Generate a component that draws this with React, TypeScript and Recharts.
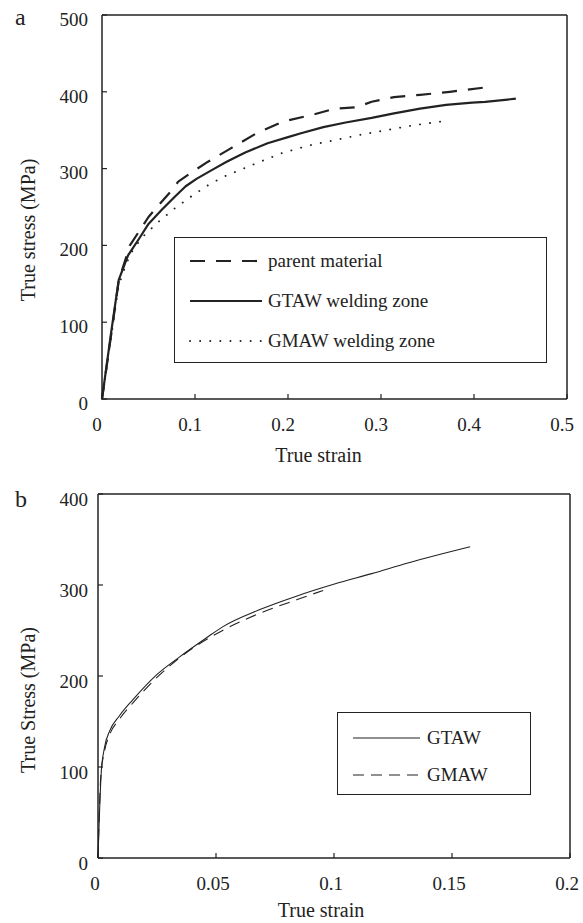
import { LineChart, Line, XAxis, YAxis, Legend, Label } from 'recharts'

// ── (a) true stress / strain, three zones ──────────────
const parentStrain = [0, 0.010, 0.018, 0.030, 0.050, 0.062, 0.073, 0.082, 0.095, 0.114, 0.138, 0.166, 0.194, 0.226, 0.250, 0.274, 0.290, 0.314, 0.342, 0.374, 0.414]
const parentStress = [0, 85, 154, 200, 237, 254, 269, 283, 294, 309, 326, 346, 361, 370, 378, 380, 387, 393, 396, 400, 406]

const gtawStrain = [0, 0.010, 0.018, 0.028, 0.040, 0.050, 0.064, 0.078, 0.090, 0.102, 0.118, 0.134, 0.154, 0.178, 0.200, 0.214, 0.238, 0.262, 0.290, 0.314, 0.342, 0.370, 0.398, 0.412, 0.445]
const gtawStress = [0, 88, 155, 187, 209, 228, 246, 263, 277, 287, 298, 309, 321, 333, 341, 346, 354, 360, 366, 372, 378, 383, 386, 387, 391]

const gmawStrain = [0, 0.010, 0.018, 0.026, 0.034, 0.046, 0.062, 0.078, 0.095, 0.112, 0.130, 0.148, 0.166, 0.193, 0.222, 0.250, 0.282, 0.310, 0.338, 0.370]
const gmawStress = [0, 82, 148, 176, 196, 214, 232, 248, 263, 277, 289, 298, 307, 320, 330, 337, 345, 351, 357, 362]

const xTicksA = [0, 0.1, 0.2, 0.3, 0.4, 0.5]
const yTicksA = [0, 100, 200, 300, 400, 500]

// ── (b) GTAW vs GMAW ───────────────────────────────────
const gtawBStrain = [0, 0.0014, 0.0028, 0.005, 0.009, 0.0148, 0.0247, 0.0346, 0.046, 0.0528, 0.0686, 0.0844, 0.1002, 0.116, 0.1317, 0.1577]
const gtawBStress = [0, 95, 122, 140, 156, 174, 201, 221, 242, 254, 273, 288, 301, 312.5, 324.5, 342]

const gmawBStrain = [0, 0.0012, 0.0028, 0.005, 0.0092, 0.015, 0.0244, 0.0371, 0.0528, 0.0686, 0.0844, 0.0954]
const gmawBStress = [0, 90, 118, 136, 153, 171, 197, 225, 250, 269, 284, 294]

const xTicksB = [0, 0.05, 0.1, 0.15, 0.2]
const yTicksB = [0, 100, 200, 300, 400]

const FONT = '"Liberation Serif", "Times New Roman", serif'
const INK = '#222'
const TICK = 5 // inward tick length

const zip = (xs: number[], ys: number[]) => xs.map((x, i) => ({ x, y: ys[i] }))

type SeriesStyle = { name: string; width: number; dash?: string; cap?: 'round' | 'butt' }

const seriesA: (SeriesStyle & { data: { x: number; y: number }[] })[] = [
  { name: 'parent material', width: 2.2, dash: '15 11', data: zip(parentStrain, parentStress) },
  { name: 'GTAW welding zone', width: 2.2, data: zip(gtawStrain, gtawStress) },
  { name: 'GMAW welding zone', width: 1.9, dash: '0.1 10', cap: 'round', data: zip(gmawStrain, gmawStress) },
]

const seriesB: (SeriesStyle & { data: { x: number; y: number }[] })[] = [
  { name: 'GTAW', width: 1.1, data: zip(gtawBStrain, gtawBStress) },
  { name: 'GMAW', width: 1.1, dash: '11 7', data: zip(gmawBStrain, gmawBStress) },
]

const fmt = (v: number) => String(v)

// tick renderers: each draws its own inward tick mark (+ label on bottom/left)
type TickProps = { x: number; y: number; payload: { value: number } }

const bottomTick = (margin: number, dx: number) => (p: TickProps) => {
  const axisY = p.y - margin
  return (
    <g>
      <line x1={p.x} x2={p.x} y1={axisY} y2={axisY - TICK} stroke={INK} strokeWidth={1.2} />
      <text x={p.x + dx} y={p.y} dy="0.71em" textAnchor="middle" fill={INK} fontSize={19} fontFamily={FONT}>
        {fmt(p.payload.value)}
      </text>
    </g>
  )
}

const topTick = (margin: number) => (p: TickProps) => {
  const axisY = p.y + margin
  return <line x1={p.x} x2={p.x} y1={axisY} y2={axisY + TICK} stroke={INK} strokeWidth={1.2} />
}

const leftTick = (margin: number, dy: number) => (p: TickProps) => {
  const axisX = p.x + margin
  return (
    <g>
      <line x1={axisX} x2={axisX + TICK} y1={p.y} y2={p.y} stroke={INK} strokeWidth={1.2} />
      <text x={p.x} y={p.y + dy} dy="0.355em" textAnchor="end" fill={INK} fontSize={19} fontFamily={FONT}>
        {fmt(p.payload.value)}
      </text>
    </g>
  )
}

const rightTick = (margin: number) => (p: TickProps) => {
  const axisX = p.x - margin
  return <line x1={axisX} x2={axisX - TICK} y1={p.y} y2={p.y} stroke={INK} strokeWidth={1.2} />
}

function LegendBox({
  items,
  rowTop,
  rowGap,
  lineX,
  lineLen,
  textX,
}: {
  items: SeriesStyle[]
  rowTop: number
  rowGap: number
  lineX: number
  lineLen: number
  textX: number
}) {
  return (
    <div
      style={{
        width: '100%',
        height: '100%',
        boxSizing: 'border-box',
        border: `1.5px solid ${INK}`,
        background: '#fff',
        position: 'relative',
        fontFamily: FONT,
        color: INK,
        fontSize: 19,
      }}
    >
      {items.map((s, i) => {
        const cy = rowTop + i * rowGap
        return (
          <div key={s.name}>
            <svg
              width={lineLen + 4}
              height={8}
              style={{ position: 'absolute', left: lineX - 2, top: cy - 4 }}
            >
              <line
                x1={2}
                x2={lineLen + 2}
                y1={4}
                y2={4}
                stroke={INK}
                strokeWidth={s.width}
                strokeDasharray={s.dash}
                strokeLinecap={s.cap ?? 'butt'}
              />
            </svg>
            <span
              style={{
                position: 'absolute',
                left: textX,
                top: cy - 12,
                lineHeight: '24px',
                whiteSpace: 'nowrap',
              }}
            >
              {s.name}
            </span>
          </div>
        )
      })}
    </div>
  )
}

const titleStyle = { fill: INK, fontSize: 20, fontFamily: FONT }

export default function App() {
  return (
    <div style={{ position: 'absolute', left: 0, top: 0, width: 583, height: 923, background: '#fff' }}>
      <div style={{ position: 'absolute', left: 15, top: 3, fontFamily: FONT, fontSize: 24, lineHeight: '28px', color: INK }}>a</div>
      <div style={{ position: 'absolute', left: 15, top: 485, fontFamily: FONT, fontSize: 24, lineHeight: '28px', color: INK }}>b</div>

      {/* ── (a) ─────────────────────────────────────── */}
      <div style={{ position: 'absolute', left: 0, top: 0 }}>
        <LineChart width={583} height={470} margin={{ top: 14, right: 15, bottom: 31, left: 0 }}>
          <XAxis
            type="number"
            dataKey="x"
            domain={[0, 0.5]}
            ticks={xTicksA}
            interval={0}
            height={40}
            stroke={INK}
            strokeWidth={1.5}
            tickLine={false}
            tickSize={0}
            tickMargin={19}
            tick={bottomTick(19, -5)}
          >
            <Label value="True strain" position="center" dx={-16} dy={36} style={titleStyle} />
          </XAxis>
          <XAxis xAxisId="t" orientation="top" type="number" domain={[0, 0.5]} ticks={xTicksA} interval={0} height={1} stroke={INK} strokeWidth={1.5} tick={false} tickLine={false} />
          <YAxis
            type="number"
            domain={[0, 500]}
            ticks={yTicksA}
            interval={0}
            width={102}
            stroke={INK}
            strokeWidth={1.5}
            tickLine={false}
            tickSize={0}
            tickMargin={14}
            tick={leftTick(14, 4)}
          >
            <Label value="True stress (MPa)" position="center" angle={-90} dx={-23} dy={23} style={{ ...titleStyle, textAnchor: 'middle' }} />
          </YAxis>
          <YAxis yAxisId="r" orientation="right" type="number" domain={[0, 500]} ticks={yTicksA} interval={0} width={1} stroke={INK} strokeWidth={1.5} tickLine={false} tickSize={0} tickMargin={4} tick={rightTick(4)} />
          {seriesA.map((s) => (
            <Line
              key={s.name}
              data={s.data}
              dataKey="y"
              name={s.name}
              type="linear"
              stroke={INK}
              strokeWidth={s.width}
              strokeDasharray={s.dash}
              strokeLinecap={s.cap ?? 'butt'}
              strokeLinejoin="round"
              dot={false}
              activeDot={false}
              isAnimationActive={false}
            />
          ))}
          <Legend
            layout="vertical"
            align="center"
            verticalAlign="middle"
            wrapperStyle={{ left: 174, top: 237, width: 373, height: 126 }}
            content={() => (
              <LegendBox items={seriesA} rowTop={23} rowGap={40} lineX={15} lineLen={72} textX={93} />
            )}
          />
        </LineChart>
      </div>

      {/* ── (b) ─────────────────────────────────────── */}
      <div style={{ position: 'absolute', left: 0, top: 460 }}>
        <LineChart width={583} height={463} margin={{ top: 33, right: 12, bottom: 25, left: 0 }}>
          <XAxis
            type="number"
            dataKey="x"
            domain={[0, 0.2]}
            ticks={xTicksB}
            interval={0}
            height={40}
            stroke={INK}
            strokeWidth={1.5}
            tickLine={false}
            tickSize={0}
            tickMargin={19}
            tick={bottomTick(19, -3)}
          >
            <Label value="True strain" position="center" dx={-13} dy={32} style={titleStyle} />
          </XAxis>
          <XAxis xAxisId="t" orientation="top" type="number" domain={[0, 0.2]} ticks={xTicksB} interval={0} height={1} stroke={INK} strokeWidth={1.5} tickLine={false} tickSize={0} tickMargin={4} tick={topTick(4)} />
          <YAxis
            type="number"
            domain={[0, 400]}
            ticks={yTicksB}
            interval={0}
            width={98}
            stroke={INK}
            strokeWidth={1.5}
            tickLine={false}
            tickSize={0}
            tickMargin={10}
            tick={leftTick(10, 5)}
          >
            <Label value="True Stress (MPa)" position="center" angle={-90} dx={-21} dy={24} style={{ ...titleStyle, textAnchor: 'middle' }} />
          </YAxis>
          <YAxis yAxisId="r" orientation="right" type="number" domain={[0, 400]} ticks={yTicksB} interval={0} width={1} stroke={INK} strokeWidth={1.5} tickLine={false} tickSize={0} tickMargin={4} tick={rightTick(4)} />
          {seriesB.map((s) => (
            <Line
              key={s.name}
              data={s.data}
              dataKey="y"
              name={s.name}
              type="monotone"
              stroke={INK}
              strokeWidth={s.width}
              strokeDasharray={s.dash}
              strokeLinejoin="round"
              dot={false}
              activeDot={false}
              isAnimationActive={false}
            />
          ))}
          <Legend
            layout="vertical"
            align="center"
            verticalAlign="middle"
            wrapperStyle={{ left: 337, top: 252, width: 194, height: 83 }}
            content={() => (
              <LegendBox items={seriesB} rowTop={25} rowGap={37} lineX={15} lineLen={67} textX={89} />
            )}
          />
        </LineChart>
      </div>
    </div>
  )
}
